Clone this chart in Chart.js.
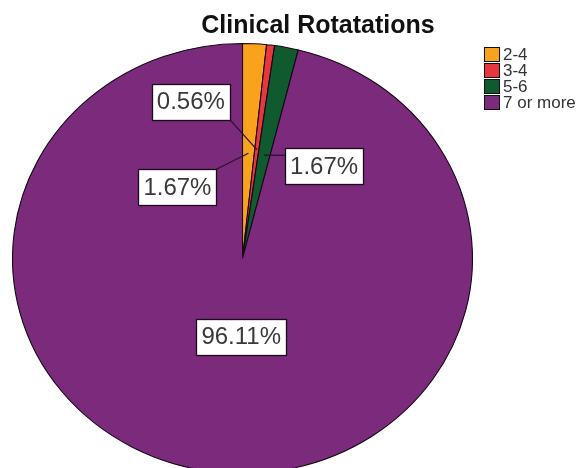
<!DOCTYPE html>
<html>
<head>
<meta charset="utf-8">
<script src="https://cdn.jsdelivr.net/npm/chart.js@4/dist/chart.umd.min.js"></script>
<style>
  html, body { margin: 0; padding: 0; background: #fff; overflow: hidden; }
  #wrap { width: 579px; height: 480px; position: relative; }
</style>
</head>
<body>
<div id="wrap"><canvas id="c" width="579" height="480"></canvas></div>
<script>
// ---- data ----
const titleText = 'Clinical Rotatations';
const categories = ['2-4', '3-4', '5-6', '7 or more'];
const percentages = [1.67, 0.56, 1.67, 96.11];
const sliceColors = ['#F8A21E', '#E8363D', '#0F5A2E', '#7B2A7C'];

// ---- style / layout ----
const FONT = '"Liberation Sans", Arial, Helvetica, sans-serif';
const SX = 230 / 215; // horizontal stretch of the pie (reference pie is slightly elliptical)

// label placement relative to an anchor on each slice (f = fraction of radius)
const labelLayout = [
  { f: 0.49, dx: -71, dy: 34, attach: [0.5, -0.5] },
  { f: 0.51, dx: -66, dy: -48, attach: [0.5, 0.5] },
  { f: 0.49, dx: 60, dy: 11, attach: [-0.5, -0.3] },
  { f: 0.366, dx: 9, dy: 0, attach: null }
];

const stretchPlugin = {
  id: 'stretch',
  beforeDatasetsDraw(chart) {
    const a = chart.getDatasetMeta(0).data[0];
    const ctx = chart.ctx;
    ctx.save();
    ctx.translate(a.x, a.y);
    ctx.scale(SX, 1);
    ctx.translate(-a.x, -a.y);
  },
  afterDatasetsDraw(chart) {
    chart.ctx.restore();
  }
};

const decorPlugin = {
  id: 'decor',
  afterDraw(chart) {
    const ctx = chart.ctx;
    const meta = chart.getDatasetMeta(0);
    const values = chart.data.datasets[0].data;

    // title
    ctx.save();
    ctx.fillStyle = '#111';
    ctx.font = 'bold 25px ' + FONT;
    ctx.textAlign = 'center';
    ctx.textBaseline = 'alphabetic';
    ctx.fillText(titleText, 318, 33);
    ctx.restore();

    // value labels with leader lines
    meta.data.forEach((arc, i) => {
      const p = arc.getProps(['x', 'y', 'startAngle', 'endAngle', 'outerRadius'], true);
      const mid = (p.startAngle + p.endAngle) / 2;
      const L = labelLayout[i];
      const ax = p.x + SX * Math.cos(mid) * p.outerRadius * L.f;
      const ay = p.y + Math.sin(mid) * p.outerRadius * L.f;
      const cx = ax + L.dx, cy = ay + L.dy;
      const txt = values[i].toFixed(2) + '%';
      ctx.save();
      ctx.font = '24px ' + FONT;
      const tw = ctx.measureText(txt).width;
      const w = Math.round(tw + 10), h = 36;
      const bx = Math.round(cx - w / 2) + 0.5, by = Math.round(cy - h / 2) + 0.5;
      if (L.attach) {
        ctx.strokeStyle = '#2a0f2a';
        ctx.lineWidth = 1.2;
        ctx.beginPath();
        ctx.moveTo(ax, ay);
        ctx.lineTo(cx + L.attach[0] * w, cy + L.attach[1] * h);
        ctx.stroke();
      }
      ctx.fillStyle = '#fff';
      ctx.fillRect(bx, by, w, h);
      ctx.strokeStyle = '#1a0a1a';
      ctx.lineWidth = 1.3;
      ctx.strokeRect(bx, by, w, h);
      ctx.fillStyle = '#3a3a3a';
      ctx.textAlign = 'center';
      ctx.textBaseline = 'middle';
      ctx.fillText(txt, cx, cy + 1);
      ctx.restore();
    });

    // legend
    ctx.save();
    ctx.font = '17px ' + FONT;
    ctx.textBaseline = 'middle';
    ctx.textAlign = 'left';
    chart.data.labels.forEach((lab, i) => {
      const y = 47 + i * 16;
      ctx.fillStyle = sliceColors[i];
      ctx.fillRect(484.5, y + 0.5, 15, 14);
      ctx.strokeStyle = '#111';
      ctx.lineWidth = 1;
      ctx.strokeRect(484.5, y + 0.5, 15, 14);
      ctx.fillStyle = '#333';
      ctx.fillText(lab, 503, y + 8);
    });
    ctx.restore();
  }
};

new Chart(document.getElementById('c'), {
  type: 'pie',
  data: {
    labels: categories,
    datasets: [{
      data: percentages,
      backgroundColor: sliceColors,
      borderColor: '#150515',
      borderWidth: 1,
      clip: false
    }]
  },
  options: {
    responsive: false,
    maintainAspectRatio: false,
    animation: false,
    layout: { padding: { top: 43, left: 27, right: 121, bottom: 6 } },
    plugins: {
      legend: { display: false },
      title: { display: false },
      tooltip: { enabled: false }
    }
  },
  plugins: [stretchPlugin, decorPlugin]
});
</script>
</body>
</html>
